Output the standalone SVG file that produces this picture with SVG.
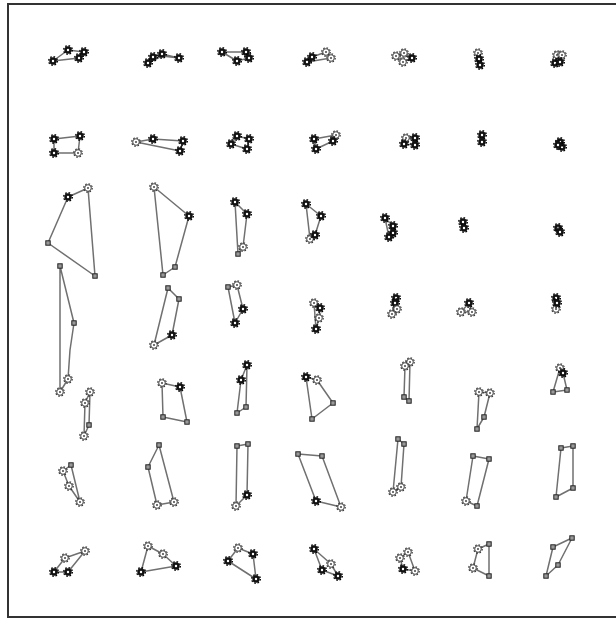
<svg xmlns="http://www.w3.org/2000/svg" xmlns:xlink="http://www.w3.org/1999/xlink" width="616" height="619" viewBox="0 0 616 619">
<style>
.frame{fill:none;stroke:#333;stroke-width:2}
.ln{fill:none;stroke:#707070;stroke-width:1.5;stroke-linejoin:round}
</style>
<defs>
<g id="bk">
<circle r="4.3" fill="none" stroke="#000" stroke-width="1.4" stroke-dasharray="1.6 1.78"/>
<circle r="3.7" fill="#111"/>
<circle r="1.2" fill="#fff"/>
</g>
<g id="wh">
<circle r="4.2" fill="none" stroke="#333" stroke-width="1.2" stroke-dasharray="1.6 1.7"/>
<circle r="3.3" fill="#fff" stroke="#444" stroke-width="1"/>
<circle r="1" fill="#444"/>
</g>
<g id="sq">
<rect x="-2.2" y="-2.2" width="4.4" height="4.4" fill="#999" stroke="#222" stroke-width="1"/>
</g>
</defs>
<rect width="616" height="619" fill="#fff"/>
<path class="frame" d="M616,4 H8 V617 H616"/>
<g id="connectors">
<polygon class="ln" points="53,61 68,50 84,52 79,58"/>
<polygon class="ln" points="148,63 153,57 162,54 179,58 162,56"/>
<polygon class="ln" points="222,52 246,52 249,58 237,61"/>
<polygon class="ln" points="307,62 312,57 326,52 331,58"/>
<polygon class="ln" points="396,56 404,53 412,58 403,62"/>
<polygon class="ln" points="478,53 479,59 480,65"/>
<polygon class="ln" points="557,55 562,55 560,62 555,63"/>
<polygon class="ln" points="54,139 80,136 78,153 54,153"/>
<polygon class="ln" points="136,142 153,139 183,141 180,151"/>
<polygon class="ln" points="237,136 249,139 247,149 231,144"/>
<polygon class="ln" points="314,139 336,135 333,141 316,149"/>
<polygon class="ln" points="406,138 415,138 415,145 404,144"/>
<polygon class="ln" points="482,135 482,142"/>
<polygon class="ln" points="560,142 562,147 558,145"/>
<polygon class="ln" points="68,197 88,188 95,276 48,243"/>
<polygon class="ln" points="154,187 189,216 175,267 163,275"/>
<polygon class="ln" points="235,202 247,214 243,247 238,254"/>
<polygon class="ln" points="306,204 321,216 315,235 310,239"/>
<polygon class="ln" points="385,218 393,226 393,233 389,237"/>
<polygon class="ln" points="463,222 464,228"/>
<polygon class="ln" points="558,228 560,232"/>
<polygon class="ln" points="60,266 74,323 70,350 68,379 60,392"/>
<polygon class="ln" points="168,288 179,299 172,335 154,345"/>
<polygon class="ln" points="228,287 237,285 243,309 235,323"/>
<polygon class="ln" points="314,303 320,308 319,318 316,329"/>
<polygon class="ln" points="396,298 395,303 397,309 392,314"/>
<polygon class="ln" points="469,303 472,312 461,312"/>
<polygon class="ln" points="556,298 557,303 556,309"/>
<polygon class="ln" points="90,392 89,425 84,436 85,403"/>
<polygon class="ln" points="162,383 180,387 187,422 163,417"/>
<polygon class="ln" points="247,365 246,407 237,413 241,380"/>
<polygon class="ln" points="306,377 317,380 333,403 312,419"/>
<polygon class="ln" points="410,362 409,401 404,397 405,366"/>
<polygon class="ln" points="479,392 477,429 484,417 490,393"/>
<polygon class="ln" points="560,368 563,373 567,390 553,392"/>
<polygon class="ln" points="71,465 80,502 69,486 63,471"/>
<polygon class="ln" points="159,445 174,502 157,505 148,467"/>
<polygon class="ln" points="237,446 248,444 247,495 236,506"/>
<polygon class="ln" points="298,454 322,456 341,507 316,501"/>
<polygon class="ln" points="398,439 404,444 401,487 393,492"/>
<polygon class="ln" points="473,456 489,459 477,506 466,501"/>
<polygon class="ln" points="561,448 573,446 573,488 556,497"/>
<polygon class="ln" points="54,572 65,558 85,551 68,572"/>
<polygon class="ln" points="148,546 163,554 176,566 141,572"/>
<polygon class="ln" points="238,548 253,554 256,579 228,561"/>
<polygon class="ln" points="314,549 331,564 338,576 322,570"/>
<polygon class="ln" points="400,558 408,552 415,571 403,569"/>
<polygon class="ln" points="478,549 489,544 489,576 473,568"/>
<polygon class="ln" points="572,538 558,565 546,576 553,547"/>
</g>
<g id="c11"><use href="#bk" x="53" y="61"/><use href="#bk" x="68" y="50"/><use href="#bk" x="84" y="52"/><use href="#bk" x="79" y="58"/></g>
<g id="c12"><use href="#bk" x="148" y="63"/><use href="#bk" x="153" y="57"/><use href="#bk" x="162" y="54"/><use href="#bk" x="179" y="58"/></g>
<g id="c13"><use href="#bk" x="222" y="52"/><use href="#bk" x="246" y="52"/><use href="#bk" x="249" y="58"/><use href="#bk" x="237" y="61"/></g>
<g id="c14"><use href="#bk" x="307" y="62"/><use href="#bk" x="312" y="57"/><use href="#wh" x="326" y="52"/><use href="#wh" x="331" y="58"/></g>
<g id="c15"><use href="#wh" x="396" y="56"/><use href="#wh" x="404" y="53"/><use href="#bk" x="412" y="58"/><use href="#wh" x="403" y="62"/></g>
<g id="c16"><use href="#wh" x="478" y="53"/><use href="#bk" x="479" y="59"/><use href="#bk" x="480" y="65"/></g>
<g id="c17"><use href="#wh" x="557" y="55"/><use href="#wh" x="562" y="55"/><use href="#bk" x="555" y="63"/><use href="#bk" x="560" y="62"/></g>
<g id="c21"><use href="#bk" x="54" y="139"/><use href="#bk" x="80" y="136"/><use href="#wh" x="78" y="153"/><use href="#bk" x="54" y="153"/></g>
<g id="c22"><use href="#wh" x="136" y="142"/><use href="#bk" x="153" y="139"/><use href="#bk" x="183" y="141"/><use href="#bk" x="180" y="151"/></g>
<g id="c23"><use href="#bk" x="237" y="136"/><use href="#bk" x="249" y="139"/><use href="#bk" x="247" y="149"/><use href="#bk" x="231" y="144"/></g>
<g id="c24"><use href="#bk" x="314" y="139"/><use href="#wh" x="336" y="135"/><use href="#bk" x="333" y="141"/><use href="#bk" x="316" y="149"/></g>
<g id="c25"><use href="#wh" x="406" y="138"/><use href="#bk" x="415" y="138"/><use href="#bk" x="415" y="145"/><use href="#bk" x="404" y="144"/></g>
<g id="c26"><use href="#bk" x="482" y="135"/><use href="#bk" x="482" y="142"/></g>
<g id="c27"><use href="#bk" x="560" y="142"/><use href="#bk" x="562" y="147"/><use href="#bk" x="558" y="145"/></g>
<g id="c31"><use href="#bk" x="68" y="197"/><use href="#wh" x="88" y="188"/><use href="#sq" x="95" y="276"/><use href="#sq" x="48" y="243"/></g>
<g id="c32"><use href="#wh" x="154" y="187"/><use href="#bk" x="189" y="216"/><use href="#sq" x="175" y="267"/><use href="#sq" x="163" y="275"/></g>
<g id="c33"><use href="#bk" x="235" y="202"/><use href="#bk" x="247" y="214"/><use href="#wh" x="243" y="247"/><use href="#sq" x="238" y="254"/></g>
<g id="c34"><use href="#bk" x="306" y="204"/><use href="#bk" x="321" y="216"/><use href="#wh" x="310" y="239"/><use href="#bk" x="315" y="235"/></g>
<g id="c35"><use href="#bk" x="385" y="218"/><use href="#bk" x="393" y="226"/><use href="#bk" x="393" y="233"/><use href="#bk" x="389" y="237"/></g>
<g id="c36"><use href="#bk" x="463" y="222"/><use href="#bk" x="464" y="228"/></g>
<g id="c37"><use href="#bk" x="558" y="228"/><use href="#bk" x="560" y="232"/></g>
<g id="c41"><use href="#sq" x="60" y="266"/><use href="#sq" x="74" y="323"/><use href="#wh" x="68" y="379"/><use href="#wh" x="60" y="392"/></g>
<g id="c42"><use href="#sq" x="168" y="288"/><use href="#sq" x="179" y="299"/><use href="#bk" x="172" y="335"/><use href="#wh" x="154" y="345"/></g>
<g id="c43"><use href="#sq" x="228" y="287"/><use href="#wh" x="237" y="285"/><use href="#bk" x="243" y="309"/><use href="#bk" x="235" y="323"/></g>
<g id="c44"><use href="#wh" x="314" y="303"/><use href="#bk" x="320" y="308"/><use href="#wh" x="319" y="318"/><use href="#bk" x="316" y="329"/></g>
<g id="c45"><use href="#bk" x="396" y="298"/><use href="#bk" x="395" y="303"/><use href="#wh" x="397" y="309"/><use href="#wh" x="392" y="314"/></g>
<g id="c46"><use href="#wh" x="461" y="312"/><use href="#wh" x="472" y="312"/><use href="#bk" x="469" y="303"/></g>
<g id="c47"><use href="#wh" x="556" y="309"/><use href="#bk" x="556" y="298"/><use href="#bk" x="557" y="303"/></g>
<g id="c51"><use href="#wh" x="90" y="392"/><use href="#wh" x="85" y="403"/><use href="#sq" x="89" y="425"/><use href="#wh" x="84" y="436"/></g>
<g id="c52"><use href="#wh" x="162" y="383"/><use href="#bk" x="180" y="387"/><use href="#sq" x="187" y="422"/><use href="#sq" x="163" y="417"/></g>
<g id="c53"><use href="#bk" x="247" y="365"/><use href="#bk" x="241" y="380"/><use href="#sq" x="246" y="407"/><use href="#sq" x="237" y="413"/></g>
<g id="c54"><use href="#bk" x="306" y="377"/><use href="#wh" x="317" y="380"/><use href="#sq" x="333" y="403"/><use href="#sq" x="312" y="419"/></g>
<g id="c55"><use href="#wh" x="410" y="362"/><use href="#wh" x="405" y="366"/><use href="#sq" x="404" y="397"/><use href="#sq" x="409" y="401"/></g>
<g id="c56"><use href="#wh" x="479" y="392"/><use href="#wh" x="490" y="393"/><use href="#sq" x="484" y="417"/><use href="#sq" x="477" y="429"/></g>
<g id="c57"><use href="#wh" x="560" y="368"/><use href="#bk" x="563" y="373"/><use href="#sq" x="553" y="392"/><use href="#sq" x="567" y="390"/></g>
<g id="c61"><use href="#wh" x="63" y="471"/><use href="#sq" x="71" y="465"/><use href="#wh" x="69" y="486"/><use href="#wh" x="80" y="502"/></g>
<g id="c62"><use href="#sq" x="159" y="445"/><use href="#sq" x="148" y="467"/><use href="#wh" x="157" y="505"/><use href="#wh" x="174" y="502"/></g>
<g id="c63"><use href="#sq" x="237" y="446"/><use href="#sq" x="248" y="444"/><use href="#bk" x="247" y="495"/><use href="#wh" x="236" y="506"/></g>
<g id="c64"><use href="#sq" x="298" y="454"/><use href="#sq" x="322" y="456"/><use href="#bk" x="316" y="501"/><use href="#wh" x="341" y="507"/></g>
<g id="c65"><use href="#sq" x="398" y="439"/><use href="#sq" x="404" y="444"/><use href="#wh" x="401" y="487"/><use href="#wh" x="393" y="492"/></g>
<g id="c66"><use href="#sq" x="473" y="456"/><use href="#sq" x="489" y="459"/><use href="#wh" x="466" y="501"/><use href="#sq" x="477" y="506"/></g>
<g id="c67"><use href="#sq" x="561" y="448"/><use href="#sq" x="573" y="446"/><use href="#sq" x="573" y="488"/><use href="#sq" x="556" y="497"/></g>
<g id="c71"><use href="#bk" x="54" y="572"/><use href="#bk" x="68" y="572"/><use href="#wh" x="65" y="558"/><use href="#wh" x="85" y="551"/></g>
<g id="c72"><use href="#wh" x="148" y="546"/><use href="#wh" x="163" y="554"/><use href="#bk" x="176" y="566"/><use href="#bk" x="141" y="572"/></g>
<g id="c73"><use href="#wh" x="238" y="548"/><use href="#bk" x="253" y="554"/><use href="#bk" x="228" y="561"/><use href="#bk" x="256" y="579"/></g>
<g id="c74"><use href="#bk" x="314" y="549"/><use href="#wh" x="331" y="564"/><use href="#bk" x="322" y="570"/><use href="#bk" x="338" y="576"/></g>
<g id="c75"><use href="#wh" x="400" y="558"/><use href="#wh" x="408" y="552"/><use href="#bk" x="403" y="569"/><use href="#wh" x="415" y="571"/></g>
<g id="c76"><use href="#wh" x="478" y="549"/><use href="#sq" x="489" y="544"/><use href="#wh" x="473" y="568"/><use href="#sq" x="489" y="576"/></g>
<g id="c77"><use href="#sq" x="572" y="538"/><use href="#sq" x="553" y="547"/><use href="#sq" x="558" y="565"/><use href="#sq" x="546" y="576"/></g>
</svg>
